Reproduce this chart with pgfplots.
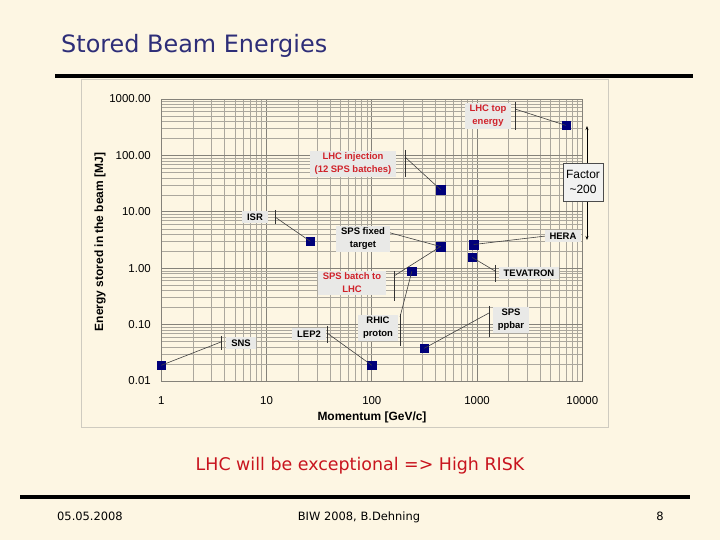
\documentclass[border=0pt]{standalone}
\usepackage{fontspec}
\setmainfont{Liberation Sans}
\newfontfamily\slidefont{DejaVu Sans}
\usepackage{pgfplots}
\pgfplotsset{compat=1.18}
\usetikzlibrary{arrows.meta}
\definecolor{slidebg}{HTML}{FDF6E3}
\definecolor{panelc}{HTML}{CFCBC0}
\definecolor{titleblue}{HTML}{2E2E78}
\definecolor{slidered}{HTML}{C8141E}
\definecolor{annred}{HTML}{D0222A}
\definecolor{boxgrey}{HTML}{E9E9E7}
\definecolor{gridc}{HTML}{ABA79D}
\definecolor{gridmaj}{HTML}{85827A}
\definecolor{navy}{HTML}{00007A}
\begin{document}
\begin{tikzpicture}
\fill[slidebg] (0,0) rectangle (720bp,540bp);
\begin{scope}[x=1bp,y=-1bp,shift={(0bp,540bp)}]
  \draw[panelc, line width=0.8bp] (81,79) rectangle (608,427);
  \draw[line width=3.3bp] (55,76) -- (693,76);
  \draw[line width=3.3bp] (20,497) -- (690,497);
  \node[anchor=base west, inner sep=0, text=titleblue, font=\slidefont\fontsize{24}{28}\selectfont] at (61,53) {Stored Beam Energies};
  \node[anchor=base, inner sep=0, text=slidered, font=\slidefont\fontsize{17.5}{20}\selectfont] at (360,471) {LHC will be exceptional => High RISK};
  \node[anchor=base, inner sep=0, font=\slidefont\fontsize{11.5}{13}\selectfont] at (90,521) {05.05.2008};
  \node[anchor=base, inner sep=0, font=\slidefont\fontsize{11.5}{13}\selectfont] at (359,521) {BIW 2008, B.Dehning};
  \node[anchor=base, inner sep=0, font=\slidefont\fontsize{11.5}{13}\selectfont] at (660,521) {8};
  \node[font=\bfseries\fontsize{12}{14}\selectfont] at (372,417) {Momentum [GeV/c]};
  \node[rotate=90, font=\bfseries\fontsize{12}{14}\selectfont] at (100,242) {Energy stored in the beam [MJ]};
\end{scope}
\begin{axis}[
  at={(161.3bp,159bp)}, anchor=south west,
  scale only axis, width=421bp, height=282bp,
  xmode=log, ymode=log,
  xmin=1, xmax=10000, ymin=0.01, ymax=1000,
  xtick={1,10,100,1000,10000},
  xticklabels={1,10,100,1000,10000},
  ytick={0.01,0.1,1,10,100,1000},
  yticklabels={0.01,0.10,1.00,10.00,100.00,1000.00},
  minor xtick={2,3,4,5,6,7,8,9,20,30,40,50,60,70,80,90,200,300,400,500,600,700,800,900,2000,3000,4000,5000,6000,7000,8000,9000},
  minor ytick={0.02,0.03,0.04,0.05,0.06,0.07,0.08,0.09,0.2,0.3,0.4,0.5,0.6,0.7,0.8,0.9,2,3,4,5,6,7,8,9,20,30,40,50,60,70,80,90,200,300,400,500,600,700,800,900},
  grid=both,
  major grid style={gridmaj, line width=0.7bp},
  minor grid style={gridc, line width=0.5bp},
  major tick length=0pt, minor tick length=0pt,
  axis line style={gridmaj, line width=0.8bp},
  tick label style={font=\fontsize{11.5}{13}\selectfont},
  yticklabel style={xshift=-7bp},
  xticklabel style={yshift=-12bp},
  clip=false,
]
\addplot[only marks, mark=square*, mark size=4.2bp, color=navy] coordinates {
  (1,0.019) (100,0.019) (26,3.0) (450,2.42) (450,24.7) (240,0.88)
  (315,0.038) (930,2.63) (900,1.55) (7000,340)
};
\coordinate (SNS) at (axis cs:1,0.019);
\coordinate (LEP) at (axis cs:100,0.019);
\coordinate (ISR) at (axis cs:26,3.0);
\coordinate (SPSft) at (axis cs:450,2.42);
\coordinate (LHCinj) at (axis cs:450,24.7);
\coordinate (RHIC) at (axis cs:240,0.88);
\coordinate (PPBAR) at (axis cs:315,0.038);
\coordinate (HERA) at (axis cs:930,2.63);
\coordinate (TEV) at (axis cs:900,1.55);
\coordinate (LHCtop) at (axis cs:7000,340);
\end{axis}
\begin{scope}[x=1bp,y=-1bp,shift={(0bp,540bp)},
  lab/.style={fill=boxgrey, inner xsep=5bp, inner ysep=2.5bp, align=center, font=\bfseries\fontsize{9.5}{13}\selectfont},
  bar/.style={black!80, line width=0.8bp},
  lead/.style={black!75, line width=0.6bp}]
  % arrow and factor box
  \draw[line width=0.6bp, -{Stealth[length=4bp,width=3bp]}] (587,183) -- (587,126);
  \draw[line width=0.6bp, -{Stealth[length=4bp,width=3bp]}] (587,183) -- (587,240);
  \node[draw=black!70, fill=boxgrey!60, line width=0.7bp, minimum width=40bp, minimum height=38bp, align=center, font=\fontsize{12}{14.5}\selectfont, inner sep=1bp] at (583,182) {Factor\\\textasciitilde200};
  % leaders
  \draw[lead] (515,109) -- (LHCtop);
  \draw[lead] (405,157) -- (LHCinj);
  \draw[lead] (275,217) -- (ISR);
  \draw[lead] (387,232) -- (SPSft);
  \draw[lead] (394,276) -- (SPSft);
  \draw[lead] (400,317) -- (RHIC);
  \draw[lead] (327,333) -- (LEP);
  \draw[lead] (221,342) -- (SNS);
  \draw[lead] (489,313) -- (PPBAR);
  \draw[lead] (495,271) -- (TEV);
  \draw[lead] (546,236) -- (HERA);
  % labels
  \node[lab, text=annred] at (488,116) {LHC top\\energy};
  \draw[bar] (515,102) -- (515,130);
  \node[lab, text=annred] at (353,164) {LHC injection\\(12 SPS batches)};
  \draw[bar] (405,150) -- (405,177);
  \node[lab] at (255,217) {ISR};
  \draw[bar] (275,210) -- (275,224);
  \node[lab] at (363,239) {SPS fixed\\target};
  \node[lab, text=annred] at (352,283) {SPS batch to\\LHC};
  \draw[bar] (394,271) -- (394,301);
  \node[lab] at (378,328) {RHIC\\proton};
  \draw[bar] (400,314) -- (400,346);
  \node[lab] at (309,334) {LEP2};
  \draw[bar] (327,326) -- (327,343);
  \node[lab] at (241,343) {SNS};
  \draw[bar] (221,336) -- (221,350);
  \node[lab] at (511,320) {SPS\\ppbar};
  \draw[bar] (489,306) -- (489,337);
  \node[lab] at (529,273) {TEVATRON};
  \draw[bar] (495,265) -- (495,282);
  \node[lab] at (563,236) {HERA};
\end{scope}
\end{tikzpicture}
\end{document}
